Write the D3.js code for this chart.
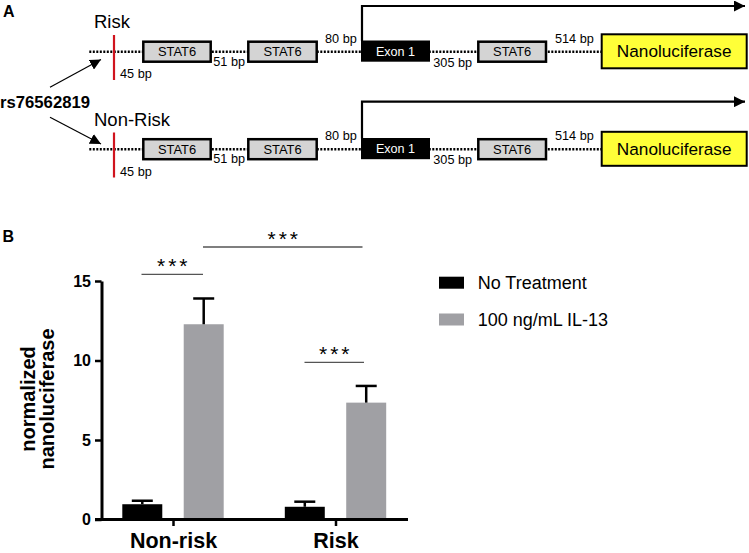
<!DOCTYPE html>
<html><head><meta charset="utf-8">
<script src="https://cdn.jsdelivr.net/npm/d3@7"></script>
<style>
body{margin:0;background:#fff;}
svg{display:block;font-family:"Liberation Sans",Arial,sans-serif;}
</style></head>
<body>
<svg id="c" width="749" height="553"></svg>
<script>
// ---------- data ----------
const groups = ["Non-risk", "Risk"];
const treatments = ["No Treatment", "100 ng/mL IL-13"];
const meanNoTreatment = [0.96, 0.80];
const meanIL13 = [12.28, 7.35];
const errNoTreatment = [0.22, 0.32];
const errIL13 = [1.62, 1.05];
const yTicks = [0, 5, 10, 15];
const sigLabels = ["***", "***", "***"];
// diagram texts
const rowLabels = ["Risk", "Non-Risk"];
const snpLabel = "rs76562819";
const gapLabels = ["45 bp", "51 bp", "80 bp", "305 bp", "514 bp"];
const boxLabels = ["STAT6", "STAT6", "Exon 1", "STAT6", "Nanoluciferase"];

const svg = d3.select("#c");
const black = "#000", gray = "#a0a0a4";

// ---------- Panel A ----------
svg.append("text").attr("x", 3).attr("y", 17).attr("font-size", 16).attr("font-weight", "bold").text("A");
const defs = svg.append("defs");
defs.append("marker").attr("id", "ah").attr("viewBox", "0 0 10 10").attr("refX", 10).attr("refY", 5)
  .attr("markerWidth", 11).attr("markerHeight", 11).attr("markerUnits", "userSpaceOnUse").attr("orient", "auto")
  .append("path").attr("d", "M0,0L10,5L0,10Z").attr("fill", black);

const rowOffsets = [0, 97.5];
const arrowY = [6, 101.7];
const boxes = [
  {x0: 143.3, x1: 210.7, type: "stat"},
  {x0: 248.3, x1: 316.7, type: "stat"},
  {x0: 361, x1: 430, type: "exon"},
  {x0: 478.3, x1: 546, type: "stat"},
  {x0: 601.7, x1: 746.7, type: "nano"}
];
const gapPos = [[120, 78.3], [213.3, 65.7], [325, 42.7], [433.3, 66.7], [555, 42.7]];

rowLabels.forEach((lab, r) => {
  const g = svg.append("g").attr("transform", `translate(0,${rowOffsets[r]})`);
  const ly = 51.7;
  g.append("line").attr("x1", 89.3).attr("x2", 601).attr("y1", ly).attr("y2", ly)
    .attr("stroke", black).attr("stroke-width", 2.5).attr("stroke-dasharray", "2,1.5");
  g.append("line").attr("x1", 114).attr("x2", 114).attr("y1", 35).attr("y2", 80)
    .attr("stroke", "#d0141e").attr("stroke-width", 2.2);
  g.append("text").attr("x", 94).attr("y", 28.3).attr("font-size", 18.5).text(lab);
  // transcription arrow
  const ay = arrowY[r] - rowOffsets[r];
  g.append("path").attr("d", `M362,41V${ay}H745`).attr("fill", "none").attr("stroke", black)
    .attr("stroke-width", 2.2).attr("marker-end", "url(#ah)");
  boxes.forEach((b, i) => {
    let y0 = 41.7, y1 = 61.7, fill = "#d4d4d4", tc = black, fs = 12.9, sw = 2.5;
    if (b.type === "exon") { fill = black; tc = "#fff"; fs = 12.6; y0 = 40.5; sw = 0; }
    if (b.type === "nano") { y0 = 34.3; y1 = 68.3; fill = "#ffff38"; fs = 17.2; sw = 2; }
    g.append("rect").attr("x", b.x0).attr("y", y0).attr("width", b.x1 - b.x0).attr("height", y1 - y0)
      .attr("fill", fill).attr("stroke", sw ? black : "none").attr("stroke-width", sw);
    g.append("text").attr("x", (b.x0 + b.x1) / 2).attr("y", (y0 + y1) / 2 + fs * 0.36)
      .attr("text-anchor", "middle").attr("font-size", fs).attr("fill", tc).text(boxLabels[i]);
  });
  gapLabels.forEach((t, i) => {
    g.append("text").attr("x", gapPos[i][0]).attr("y", gapPos[i][1]).attr("font-size", 12.7).text(t);
  });
});
svg.append("text").attr("x", 0).attr("y", 108.3).attr("font-size", 16.7).attr("font-weight", "bold").text(snpLabel);
svg.append("line").attr("x1", 50).attr("y1", 87.3).attr("x2", 101).attr("y2", 59.5)
  .attr("stroke", black).attr("stroke-width", 1.2).attr("marker-end", "url(#ah)");
svg.append("line").attr("x1", 50).attr("y1", 117.3).attr("x2", 101).attr("y2", 144)
  .attr("stroke", black).attr("stroke-width", 1.2).attr("marker-end", "url(#ah)");

// ---------- Panel B ----------
svg.append("text").attr("x", 2.5).attr("y", 241.7).attr("font-size", 16).attr("font-weight", "bold").text("B");

const y = d3.scaleLinear().domain([0, 15]).range([519.5, 281]);
const x0 = d3.scalePoint().domain(groups).range([101.5, 407]).padding(0.44);
const x1 = d3.scaleBand().domain(treatments).range([-50.7, 50.7]).paddingInner(0.349).paddingOuter(0);
const color = d3.scaleOrdinal().domain(treatments).range([black, gray]);

const rows = [];
groups.forEach((g, i) => {
  rows.push({g, t: treatments[0], v: meanNoTreatment[i], e: errNoTreatment[i]});
  rows.push({g, t: treatments[1], v: meanIL13[i], e: errIL13[i]});
});

// bars
svg.append("g").selectAll("rect").data(rows).join("rect")
  .attr("x", d => x0(d.g) + x1(d.t)).attr("width", x1.bandwidth())
  .attr("y", d => y(d.v)).attr("height", d => y(0) - y(d.v))
  .attr("fill", d => color(d.t));
// error bars (upper)
const eb = svg.append("g").attr("stroke", black).attr("stroke-width", 2.5);
rows.forEach(d => {
  const cx = x0(d.g) + x1(d.t) + x1.bandwidth() / 2;
  eb.append("line").attr("x1", cx).attr("x2", cx).attr("y1", y(d.v)).attr("y2", y(d.v + d.e));
  eb.append("line").attr("x1", cx - 10.5).attr("x2", cx + 10.5).attr("y1", y(d.v + d.e)).attr("y2", y(d.v + d.e));
});

// y axis
const ya = svg.append("g").attr("transform", "translate(101.5,0)")
  .call(d3.axisLeft(y).tickValues(yTicks).tickSize(6.5).tickSizeOuter(0).tickPadding(4));
ya.select(".domain").attr("stroke-width", 3);
ya.selectAll(".tick line").attr("stroke-width", 2.5);
ya.selectAll(".tick text").attr("font-size", 16).attr("font-weight", "bold")
  .attr("font-family", "Liberation Sans, Arial, sans-serif").attr("fill", black);

// x axis
svg.append("line").attr("x1", 95).attr("x2", 408).attr("y1", y(0)).attr("y2", y(0))
  .attr("stroke", black).attr("stroke-width", 3);
const xa = svg.append("g").attr("transform", `translate(0,${y(0)})`)
  .call(d3.axisBottom(x0).tickSize(6.5).tickSizeOuter(0).tickPadding(7));
xa.select(".domain").remove();
xa.selectAll(".tick line").attr("stroke-width", 2.5);
xa.selectAll(".tick text").attr("font-size", 21.5).attr("font-weight", "bold")
  .attr("font-family", "Liberation Sans, Arial, sans-serif").attr("fill", black);

// y label
const yl = svg.append("text").attr("transform", "translate(0,399) rotate(-90)")
  .attr("text-anchor", "middle").attr("font-size", 20).attr("font-weight", "bold");
yl.append("tspan").attr("x", 0).attr("y", 35).text("normalized");
yl.append("tspan").attr("x", 0).attr("y", 53.5).text("nanoluciferase");

// significance
const gx = i => x0(groups[i]);
const sigs = [
  {xa: gx(0) - 31.5, xb: gx(0) + 30, ly: 274.3},
  {xa: gx(0) + 30, xb: gx(1) + 27, ly: 247},
  {xa: gx(1) - 31, xb: gx(1) + 28.5, ly: 362.3}
];
sigs.forEach((s, i) => {
  svg.append("line").attr("x1", s.xa).attr("x2", s.xb).attr("y1", s.ly).attr("y2", s.ly)
    .attr("stroke", "#555").attr("stroke-width", 1.3);
  svg.append("text").attr("x", (s.xa + s.xb) / 2 + 1.5).attr("y", s.ly - 1)
    .attr("text-anchor", "middle").attr("font-size", 21).attr("letter-spacing", 3).text(sigLabels[i]);
});

// legend
const lg = svg.append("g");
treatments.forEach((t, i) => {
  const yy = 276.7 + i * 36.8;
  lg.append("rect").attr("x", 439).attr("y", yy).attr("width", 25).attr("height", 12).attr("fill", color(t));
  lg.append("text").attr("x", 477.7).attr("y", yy + 12).attr("font-size", 18).text(t);
});
</script>
</body></html>
